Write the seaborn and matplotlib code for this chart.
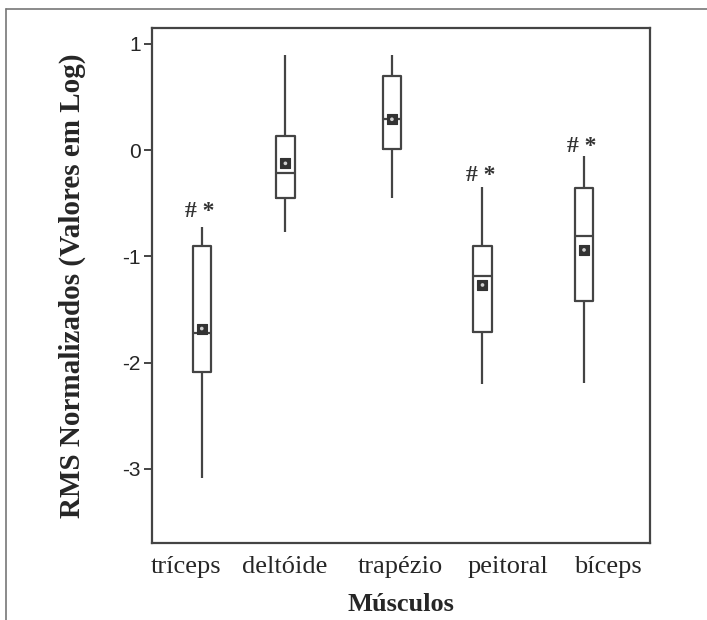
import numpy as np
import pandas as pd
import seaborn as sns
import matplotlib.pyplot as plt
from matplotlib.lines import Line2D

# values (log scale)
musculos = ["tríceps", "deltóide", "trapézio", "peitoral", "bíceps"]
posicao = [1.0, 1.84, 2.91, 3.82, 4.84]          # box centres on the x axis
pos_rotulo = [0.84, 1.83, 2.99, 4.08, 5.08]      # where the category names sit
whis_baixo = [-3.09, -0.77, -0.455, -2.205, -2.196]
q1 = [-2.09, -0.448, 0.007, -1.716, -1.42]
mediana = [-1.725, -0.22, 0.292, -1.19, -0.806]
q3 = [-0.90, 0.136, 0.70, -0.90, -0.354]
whis_alto = [-0.72, 0.894, 0.894, -0.345, -0.053]
media = [-1.68, -0.125, 0.29, -1.27, -0.94]
# "# *" marks (significant difference)
sig_pos = [0.98, 3.80, 4.82]
sig_y = [-0.58, -0.24, 0.03]

# five-number table so seaborn draws the boxes with whis=(0, 100)
rows = []
for i in range(len(musculos)):
    for v in [whis_baixo[i], q1[i], mediana[i], q3[i], whis_alto[i]]:
        rows.append({"pos": posicao[i], "valor": v})
df = pd.DataFrame(rows)

sns.set_theme(style="white")
plt.rcParams["font.family"] = ["Liberation Serif", "DejaVu Serif"]

fig = plt.figure(figsize=(7.07, 6.2), dpi=100)
ax = fig.add_axes([0.215, 0.124, 0.704, 0.831])

cor = "#444444"
sns.boxplot(data=df, x="pos", y="valor", native_scale=True, whis=(0, 100),
            fill=False, color=cor, linecolor=cor, linewidth=1.6, width=0.22,
            showcaps=False, ax=ax)

# mean markers: dark square with a small light dot
sns.scatterplot(x=posicao, y=media, marker="s", s=48, color="#333333",
                edgecolor="#333333", linewidth=0.8, zorder=5, ax=ax)
sns.scatterplot(x=posicao, y=media, marker="o", s=7, color="#d0d0d0",
                edgecolor="none", zorder=6, ax=ax)

for x, y in zip(sig_pos, sig_y):
    ax.text(x, y, "# *", ha="center", va="center", fontsize=17,
            fontweight="bold", color="#333333")

ax.set_xlim(0.5, 5.5)
ax.set_ylim(-3.70, 1.15)
ax.set_yticks([1, 0, -1, -2, -3])
ax.set_yticklabels(["1", "0", "-1", "-2", "-3"], family="Liberation Sans", fontsize=15)
ax.set_xticks(pos_rotulo)
ax.set_xticklabels(musculos, fontsize=19)
ax.tick_params(axis="y", left=True, length=6, width=1.4, color=cor, pad=2)
ax.tick_params(axis="x", bottom=False, length=0, pad=9)

for s in ax.spines.values():
    s.set_color(cor)
    s.set_linewidth(1.6)

ax.set_xlabel("Músculos", fontsize=19, fontweight="bold", labelpad=11)
ax.set_ylabel("RMS Normalizados (Valores em Log)", fontsize=21,
              fontweight="bold", labelpad=26)

# outer frame of the figure (top and left only)
fig.add_artist(Line2D([0.008, 1.0], [0.986, 0.986], color="#777777", lw=1.2))
fig.add_artist(Line2D([0.008, 0.008], [0.0, 0.986], color="#777777", lw=1.2))

fig.savefig("out.png", dpi=100, facecolor="white")
